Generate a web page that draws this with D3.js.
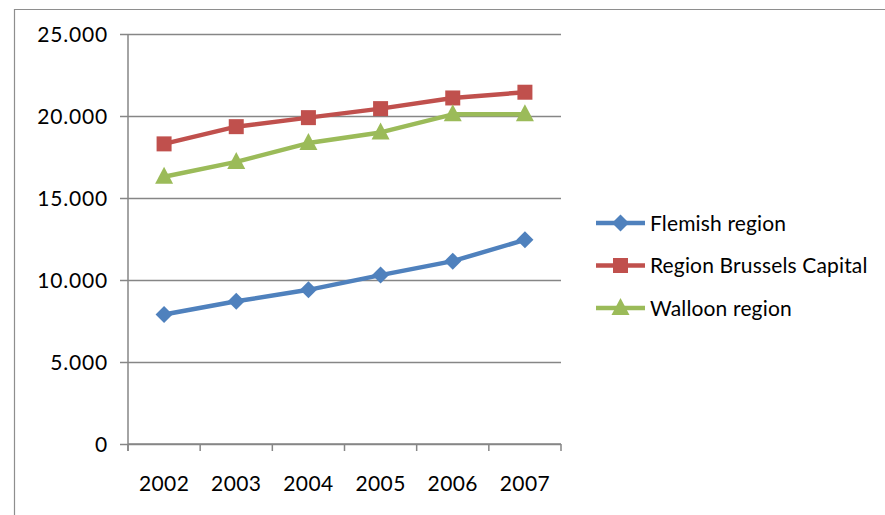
<!DOCTYPE html>
<html><head><meta charset="utf-8">
<script src="https://cdn.jsdelivr.net/npm/d3@7"></script>
<style>
html,body{margin:0;padding:0;background:#fff;}
svg{display:block;}
text{font-family:Lato, "Open Sans", sans-serif;fill:#000;}
</style></head>
<body>
<svg id="chart" width="885" height="515"></svg>
<script>
const years = ["2002","2003","2004","2005","2006","2007"];
const flemish = [7900, 8700, 9400, 10300, 11150, 12450];
const brussels = [18300, 19350, 19900, 20450, 21100, 21450];
const walloon = [16300, 17200, 18350, 19000, 20100, 20100];
const seriesNames = ["Flemish region", "Region Brussels Capital", "Walloon region"];
const seriesColors = ["#4F81BD", "#C0504D", "#9BBB59"];
const seriesMarkers = ["diamond", "square", "triangle"];
const yTicks = [0, 5000, 10000, 15000, 20000, 25000];
const yTickLabels = ["0", "5.000", "10.000", "15.000", "20.000", "25.000"];

const series = [flemish, brussels, walloon].map((v, i) => ({
  name: seriesNames[i], values: v, color: seriesColors[i], marker: seriesMarkers[i]
}));

const svg = d3.select("#chart");
const L = 128, R = 561, T = 34, B = 444;
const x = d3.scaleBand().domain(years).range([L, R]).padding(0);
const y = d3.scaleLinear().domain([0, 25000]).range([B, T]);
const cx = d => x(d) + x.bandwidth() / 2;

// outer frame
svg.append("path").attr("d", "M14.5,515 L14.5,9.5 L885,9.5")
  .attr("fill", "none").attr("stroke", "#8e8e8e").attr("stroke-width", 1.2);

// gridlines + y axis ticks
const yAxis = d3.axisLeft(y).tickValues(yTicks)
  .tickFormat((d, i) => yTickLabels[i])
  .tickSize(-(R - L)).tickSizeOuter(0).tickPadding(20);
const gy = svg.append("g").attr("transform", `translate(${L},0)`).call(yAxis);
gy.select(".domain").remove();
gy.selectAll(".tick line").attr("x1", -8).attr("x2", R - L)
  .attr("stroke", "#868686").attr("stroke-width", 1.3);
gy.selectAll(".tick text").attr("font-size", "21px").attr("font-family", "Lato")
  .attr("letter-spacing", "0.8px")
  .attr("fill", "#000").attr("dy", "0.36em");

// y axis line
svg.append("line").attr("x1", L).attr("x2", L).attr("y1", T).attr("y2", B + 7)
  .attr("stroke", "#868686").attr("stroke-width", 1.5);

// x axis
const xAxis = d3.axisBottom(x).tickSize(0).tickPadding(32);
const gx = svg.append("g").attr("transform", `translate(0,${B})`).call(xAxis);
gx.select(".domain").remove();
gx.selectAll(".tick text").attr("font-size", "21px").attr("font-family", "Lato")
  .attr("letter-spacing", "0.4px").attr("fill", "#000");
svg.append("line").attr("x1", L).attr("x2", R).attr("y1", B).attr("y2", B)
  .attr("stroke", "#868686").attr("stroke-width", 1.5);
const bounds = years.map(d => x(d)).concat([R]);
svg.selectAll(".xtick").data(bounds).enter().append("line")
  .attr("x1", d => d).attr("x2", d => d).attr("y1", B).attr("y2", B + 7)
  .attr("stroke", "#868686").attr("stroke-width", 1.5);

function markerPath(type) {
  if (type === "diamond") return "M0,-8.5 L8.5,0 L0,8.5 L-8.5,0 Z";
  if (type === "square") return "M-7.5,-7.5 L7.5,-7.5 L7.5,7.5 L-7.5,7.5 Z";
  return "M0,-10 L9,7 L-9,7 Z";
}

const line = d3.line().x((d, i) => cx(years[i])).y(d => y(d));
series.forEach(s => {
  svg.append("path").datum(s.values).attr("d", line)
    .attr("fill", "none").attr("stroke", s.color).attr("stroke-width", 4.5)
    .attr("stroke-linejoin", "round");
  svg.selectAll(null).data(s.values).enter().append("path")
    .attr("d", markerPath(s.marker))
    .attr("transform", (d, i) => `translate(${cx(years[i])},${y(d)})`)
    .attr("fill", s.color);
});

// legend
const legY = [223, 265.5, 308];
series.forEach((s, i) => {
  const g = svg.append("g").attr("transform", `translate(0,${legY[i]})`);
  g.append("line").attr("x1", 596).attr("x2", 645).attr("y1", 0).attr("y2", 0)
    .attr("stroke", s.color).attr("stroke-width", 4.5);
  g.append("path").attr("d", markerPath(s.marker)).attr("transform", "translate(620.5,0)")
    .attr("fill", s.color);
  g.append("text").attr("x", 650).attr("y", 7.8).attr("font-size", "21px")
    .attr("letter-spacing", "0.15px").text(s.name);
});
</script>
</body></html>
